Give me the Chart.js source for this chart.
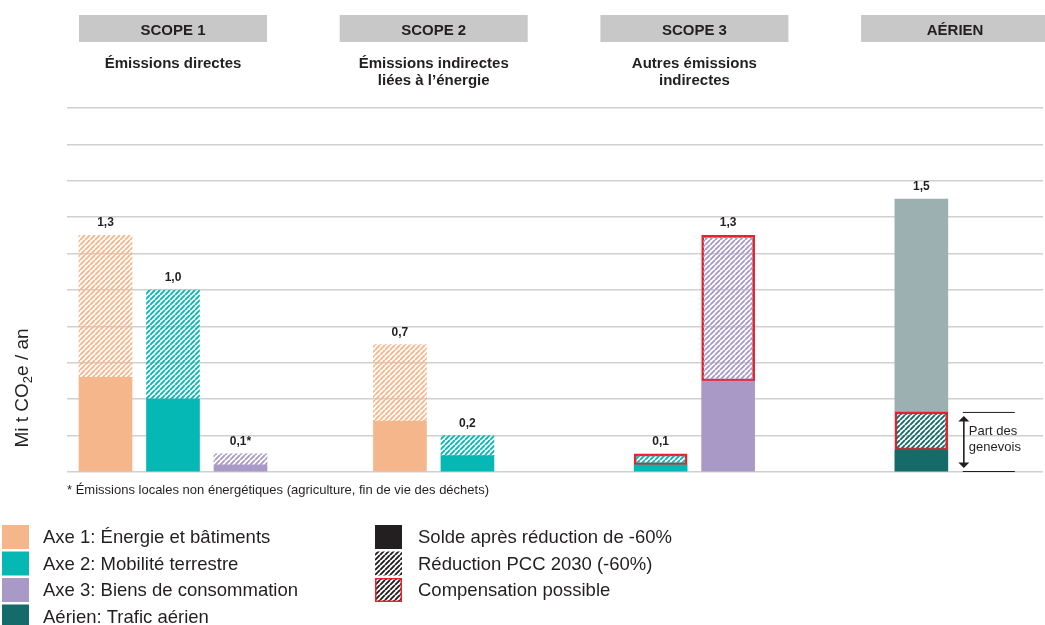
<!DOCTYPE html>
<html lang="fr">
<head>
<meta charset="utf-8">
<script src="https://cdn.jsdelivr.net/npm/chart.js@4.4.1/dist/chart.umd.min.js"></script>
<style>
  html, body { margin: 0; padding: 0; background: #fff; }
  #wrap { width: 1045px; height: 625px; position: relative; }
</style>
</head>
<body>
<div id="wrap"><canvas id="chart"></canvas></div>
<script>
const GROUPS = ['SCOPE 1', 'SCOPE 2', 'SCOPE 3', 'AÉRIEN'];
const SUBTITLES = [['Émissions directes'], ['Émissions indirectes', 'liées à l’énergie'], ['Autres émissions', 'indirectes'], []];

// Mi t CO2e / an, one value per group (SCOPE 1, SCOPE 2, SCOPE 3, AÉRIEN)
const AXE1_SOLDE = [0.52, 0.28, null, null];
const AXE1_REDUC = [0.78, 0.42, null, null];
const AXE2_SOLDE = [0.40, 0.09, 0.04, null];
const AXE2_REDUC = [0.60, 0.11, 0.06, null];
const AXE3_SOLDE = [0.04, null, 0.50, null];
const AXE3_REDUC = [0.06, null, 0.80, null];
const AERIEN_SOLDE = [null, null, null, 0.12];
const AERIEN_REDUC = [null, null, null, 0.21];
const AERIEN_RESTE = [null, null, null, 1.17];
const EMPTY_SLOT = [null, null, null, 0];
const COMPENSABLE = [false, false, true, true];
const AXE3_NOTE = ['*', '', '', ''];

const Y_MAX = 2.0;
const Y_STEP = 0.2;

const FOOTNOTE = '* Émissions locales non énergétiques (agriculture, fin de vie des déchets)';
const LEGEND_LEFT = ['Axe 1: Énergie et bâtiments', 'Axe 2: Mobilité terrestre', 'Axe 3: Biens de consommation', 'Aérien: Trafic aérien'];
const LEGEND_RIGHT = ['Solde après réduction de -60%', 'Réduction PCC 2030 (-60%)', 'Compensation possible'];

const C_AXE1 = '#f6b68b';
const C_AXE2 = '#05b8b4';
const C_AXE3 = '#a899c6';
const C_AERIEN = '#156a6a';
const C_AERIEN_RESTE = '#9db0b1';
const C_RED = '#e8212b';
const C_TEXT = '#231f20';
const FONT = "'Liberation Sans', Arial, sans-serif";

Chart.defaults.font.family = FONT;

function hatch(color) {
    const s = 5;
    const c = document.createElement('canvas');
    c.width = s; c.height = s;
    const g = c.getContext('2d');
    g.strokeStyle = color; g.lineWidth = 1.9;
    g.beginPath();
    for (const k of [-s, 0, s]) { g.moveTo(k, s); g.lineTo(k + s, 0); }
    g.stroke();
    return g.createPattern(c, 'repeat');
}

const redBorder = (ctx) => COMPENSABLE[ctx.dataIndex] ? 2 : 0;

function ds(data, bg, stack, compensable) {
    return { data: data, backgroundColor: bg, stack: stack,
             borderColor: C_RED, borderWidth: compensable ? redBorder : 0 };
}

const datasets = [
    ds(AXE1_SOLDE, C_AXE1, 'a1'),
    ds(AXE1_REDUC, hatch(C_AXE1), 'a1', true),
    ds(AXE2_SOLDE, C_AXE2, 'a2'),
    ds(AXE2_REDUC, hatch(C_AXE2), 'a2', true),
    ds(AXE3_SOLDE, C_AXE3, 'a3'),
    ds(AXE3_REDUC, hatch(C_AXE3), 'a3', true),
    ds(AERIEN_SOLDE, C_AERIEN, 'av'),
    ds(AERIEN_REDUC, hatch(C_AERIEN), 'av', true),
    ds(AERIEN_RESTE, C_AERIEN_RESTE, 'av'),
    ds(EMPTY_SLOT, 'rgba(0,0,0,0)', 'pad')
];

const decor = {
    id: 'decor',
    afterDatasetsDraw(chart) {
        const g = chart.ctx;
        const x = chart.scales.x, y = chart.scales.y;
        g.save();
        g.fillStyle = C_TEXT;

        // totals above each stack
        g.font = 'bold 12px ' + FONT;
        g.textAlign = 'center'; g.textBaseline = 'alphabetic';
        GROUPS.forEach((_, i) => {
            const tops = {};
            chart.data.datasets.forEach((d, di) => {
                const v = d.data[i];
                if (v === null || d.stack === 'pad') return;
                const t = tops[d.stack] || (tops[d.stack] = { sum: 0, el: null });
                t.sum += v;
                t.el = chart.getDatasetMeta(di).data[i];
            });
            Object.entries(tops).forEach(([stack, t]) => {
                let txt = t.sum.toFixed(1).replace('.', ',');
                if (stack === 'a3') txt += AXE3_NOTE[i];
                g.fillText(txt, t.el.x, t.el.y - 9);
            });
        });

        // group headers
        GROUPS.forEach((name, i) => {
            const cx = x.getPixelForValue(i);
            g.fillStyle = '#c8c8c8';
            g.fillRect(cx - 94, 15, 188, 27);
            g.fillStyle = C_TEXT;
            g.font = 'bold 15px ' + FONT;
            g.fillText(name, cx, 34.5);
            SUBTITLES[i].forEach((line, li) => g.fillText(line, cx, 68 + li * 17));
        });

        // "Part des genevois" bracket
        const el = chart.getDatasetMeta(7).data[3];
        const right = el.x + el.width / 2;
        const top = el.y, base = y.getPixelForValue(0);
        const x0 = right + 15, x1 = right + 67, ax = right + 16;
        g.strokeStyle = C_TEXT; g.lineWidth = 1;
        g.beginPath();
        g.moveTo(x0, top + 0.5); g.lineTo(x1, top + 0.5);
        g.moveTo(x0, base - 0.5); g.lineTo(x1, base - 0.5);
        g.stroke();
        g.lineWidth = 1.6;
        g.beginPath(); g.moveTo(ax, top + 8); g.lineTo(ax, base - 8); g.stroke();
        g.beginPath();
        g.moveTo(ax, top + 4); g.lineTo(ax - 5.5, top + 9.5); g.lineTo(ax + 5.5, top + 9.5); g.closePath();
        g.moveTo(ax, base - 4); g.lineTo(ax - 5.5, base - 9.5); g.lineTo(ax + 5.5, base - 9.5); g.closePath();
        g.fill();
        g.font = '13px ' + FONT; g.textAlign = 'left';
        g.fillText('Part des', ax + 5, top + 23.5);
        g.fillText('genevois', ax + 5, top + 39);

        // y title with subscript
        g.save();
        g.translate(28, 388);
        g.rotate(-Math.PI / 2);
        const big = '19px ' + FONT, small = '13px ' + FONT;
        g.font = big; const w1 = g.measureText('Mi t CO').width;
        const w3 = g.measureText('e / an').width;
        g.font = small; const w2 = g.measureText('2').width;
        let px = -(w1 + w2 + w3) / 2;
        g.font = big; g.fillText('Mi t CO', px, 0); px += w1;
        g.font = small; g.fillText('2', px, 4); px += w2;
        g.font = big; g.fillText('e / an', px, 0);
        g.restore();

        // footnote
        g.font = '13px ' + FONT; g.textAlign = 'left';
        g.fillText(FOOTNOTE, 67, 494);

        // legend
        g.font = '18.5px ' + FONT; g.textBaseline = 'middle';
        const rowY = (r) => 525 + r * 26.5;
        [C_AXE1, C_AXE2, C_AXE3, C_AERIEN].forEach((c, r) => {
            g.fillStyle = c; g.fillRect(2, rowY(r), 27, 24);
            g.fillStyle = C_TEXT; g.fillText(LEGEND_LEFT[r], 43, rowY(r) + 13);
        });
        const blackHatch = hatch('#231f20');
        LEGEND_RIGHT.forEach((txt, r) => {
            g.fillStyle = r === 0 ? C_TEXT : blackHatch;
            g.fillRect(375, rowY(r), 27, 24);
            if (r === 2) { g.strokeStyle = C_RED; g.lineWidth = 1.5; g.strokeRect(375.75, rowY(r) + 0.75, 25.5, 22.5); }
            g.fillStyle = C_TEXT; g.fillText(txt, 418, rowY(r) + 13);
        });
        g.restore();
    }
};

new Chart(document.getElementById('chart'), {
    type: 'bar',
    data: { labels: GROUPS.map((_, i) => i), datasets: datasets },
    options: {
        responsive: true, maintainAspectRatio: false, animation: false,
        layout: { padding: { left: 67, right: 2, top: 108, bottom: 153 } },
        datasets: { bar: { skipNull: true, barThickness: 67.5, maxBarThickness: 53, borderSkipped: false } },
        plugins: { legend: { display: false }, tooltip: { enabled: false } },
        scales: {
            x: { type: 'linear', display: false, offset: false, min: -0.4066, max: 3.3372 },
            y: { stacked: true, min: 0, max: Y_MAX,
                 border: { display: false },
                 grid: { color: '#d0d0d0', lineWidth: 1.5, drawTicks: false },
                 ticks: { display: false, stepSize: Y_STEP } }
        }
    },
    plugins: [decor]
});
</script>
</body>
</html>
